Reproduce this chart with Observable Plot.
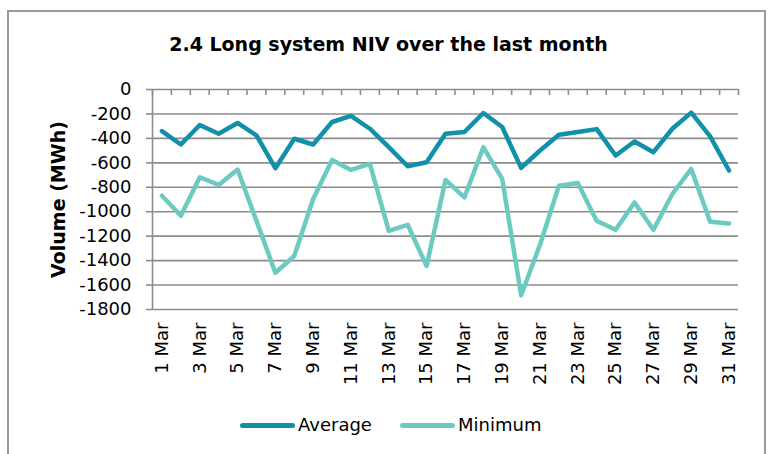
<!DOCTYPE html>
<html><head><meta charset="utf-8">
<script src="https://cdn.jsdelivr.net/npm/d3@7"></script>
<script src="https://cdn.jsdelivr.net/npm/@observablehq/plot@0.6"></script>
<style>
body{margin:0;background:#fff;font-family:"DejaVu Sans",sans-serif;color:#000}
#wrap{position:relative;width:770px;height:454px;overflow:hidden}
#frame{position:absolute;left:7px;top:10px;width:759px;height:470px;border:2px solid #9a9a9a;box-sizing:border-box}
#title{position:absolute;left:0;width:777px;top:32px;text-align:center;font-weight:bold;font-size:19px;line-height:24px}
#chart{position:absolute;left:0;top:0}
.leg{position:absolute;top:414px;font-size:18px;line-height:22px;display:flex;align-items:center}
.sw{display:inline-block;width:55px;height:5px;border-radius:3px;margin-right:3px}
</style></head><body>
<div id="wrap">
<div id="frame"></div>
<div id="chart"></div>
<div id="title">2.4 Long system NIV over the last month</div>
<div class="leg" style="left:240px"><span class="sw" style="background:#1190a9"></span>Average</div>
<div class="leg" style="left:400px"><span class="sw" style="background:#6ccac1"></span>Minimum</div>
</div>
<script>
const days = [1,2,3,4,5,6,7,8,9,10,11,12,13,14,15,16,17,18,19,20,21,22,23,24,25,26,27,28,29,30,31];
const average = [-340,-450,-290,-362,-274,-376,-644,-403,-450,-266,-215,-321,-472,-628,-595,-362,-348,-192,-307,-641,-499,-370,-348,-324,-540,-425,-513,-321,-189,-384,-663];
const minimum = [-869,-1033,-718,-781,-655,-1075,-1499,-1362,-896,-576,-658,-608,-1157,-1107,-1444,-740,-883,-472,-732,-1683,-1270,-787,-765,-1075,-1148,-924,-1148,-855,-650,-1083,-1096];
const yTicks = [0,-200,-400,-600,-800,-1000,-1200,-1400,-1600,-1800];
const xLabelDays = [1,3,5,7,9,11,13,15,17,19,21,23,25,27,29,31];
const seriesNames = ["Average","Minimum"];
const seriesColors = ["#1190a9","#6ccac1"];

const rows = [];
days.forEach((d,i)=>{ rows.push({day:d, value:average[i], series:"Average"}); rows.push({day:d, value:minimum[i], series:"Minimum"}); });
const boundaries = [0.5].concat(days.map(d=>d+0.5));

const plot = Plot.plot({
  width: 770, height: 454,
  marginLeft: 152, marginRight: 32, marginTop: 89, marginBottom: 145,
  style: {fontFamily: '"DejaVu Sans", sans-serif', fontSize: "18px", color: "#000", background: "transparent"},
  x: {domain: [0.5, 31.5], axis: null},
  y: {domain: [-1800, 0], axis: null},
  color: {domain: seriesNames, range: seriesColors},
  marks: [
    Plot.ruleY(yTicks, {stroke: "#8c8c8c", strokeWidth: 1.6}),
    Plot.ruleX([0.5], {y1: -1800, y2: 0, stroke: "#8c8c8c", strokeWidth: 1.6}),
    Plot.ruleX(boundaries, {y1: 0, y2: 0, insetBottom: -6, stroke: "#8c8c8c", strokeWidth: 1.6}),
    Plot.axisY({ticks: yTicks, tickFormat: d => String(d), tickSize: 6, tickPadding: 15, stroke: "#8c8c8c", strokeWidth: 1.6, label: null, fontSize: 18}),
    Plot.axisX({ticks: xLabelDays, tickFormat: d => d + " Mar", tickRotate: -90, tickSize: 0, tickPadding: 13, label: null, fontSize: 18}),
    Plot.text(["Volume (MWh)"], {frameAnchor: "left", dx: -94, rotate: -90, textAnchor: "middle", fontWeight: "bold", fontSize: 19}),
    Plot.line(rows, {x: "day", y: "value", z: "series", stroke: "series", strokeWidth: 4.5, strokeLinejoin: "round", strokeLinecap: "round"})
  ]
});
document.getElementById("chart").appendChild(plot);
</script>
</body></html>
